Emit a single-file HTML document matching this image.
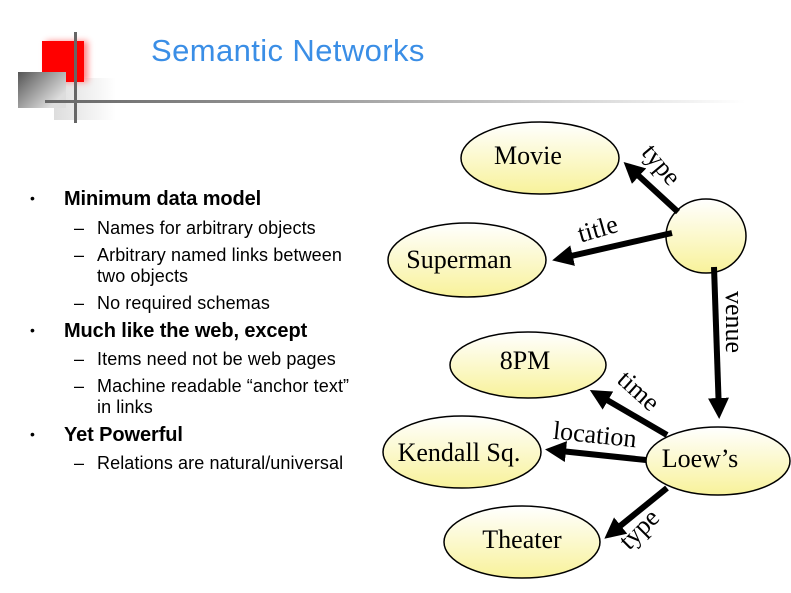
<!DOCTYPE html>
<html><head><style>
body{margin:0;width:791px;height:593px;background:#fff;position:relative;overflow:hidden;font-family:"Liberation Sans",Arial,sans-serif}
.t{position:absolute;white-space:nowrap}
.b{font-size:20px;font-weight:bold;color:#000;letter-spacing:-0.1px}
.s{font-size:18px;color:#000;letter-spacing:0.1px}
</style></head><body>
<div style="position:absolute;left:54px;top:78px;width:62px;height:42px;background:linear-gradient(90deg,#ddd,#fff)"></div>
<div style="position:absolute;left:42px;top:41px;width:42px;height:41px;background:#f00;box-shadow:4px 0 6px #f88"></div>
<div style="position:absolute;left:18px;top:72px;width:48px;height:36px;background:linear-gradient(135deg,#555,#ddd 80%)"></div>
<div style="position:absolute;left:74px;top:32px;width:3px;height:91px;background:#666"></div>
<div style="position:absolute;left:45px;top:100px;width:700px;height:3px;background:linear-gradient(90deg,#666,#bbb 60%,#fff)"></div>
<div class="t" style="left:151px;top:33px;font-size:31px;color:#3a8ee6;letter-spacing:0.4px">Semantic Networks</div>

<div class="t" style="left:30px;top:190px;font-size:14px">•</div>
<div class="t b" style="left:64px;top:188px">Minimum data model</div>
<div class="t s" style="left:74px;top:218px">–</div><div class="t s" style="left:97px;top:218px">Names for arbitrary objects</div>
<div class="t s" style="left:74px;top:245px">–</div><div class="t s" style="left:97px;top:245px">Arbitrary named links between</div>
<div class="t s" style="left:97px;top:266px">two objects</div>
<div class="t s" style="left:74px;top:293px">–</div><div class="t s" style="left:97px;top:293px">No required schemas</div>
<div class="t" style="left:30px;top:322px;font-size:14px">•</div>
<div class="t b" style="left:64px;top:320px">Much like the web, except</div>
<div class="t s" style="left:74px;top:349px">–</div><div class="t s" style="left:97px;top:349px">Items need not be web pages</div>
<div class="t s" style="left:74px;top:376px">–</div><div class="t s" style="left:97px;top:376px">Machine readable “anchor text”</div>
<div class="t s" style="left:97px;top:397px">in links</div>
<div class="t" style="left:30px;top:426px;font-size:14px">•</div>
<div class="t b" style="left:64px;top:424px">Yet Powerful</div>
<div class="t s" style="left:74px;top:453px">–</div><div class="t s" style="left:97px;top:453px">Relations are natural/universal</div>

<svg width="791" height="593" style="position:absolute;left:0;top:0" font-family="Liberation Serif,serif" font-size="26">
<defs><linearGradient id="g" x1="0" y1="0" x2="0" y2="1"><stop offset="0" stop-color="#fff"/><stop offset="1" stop-color="#f8f29a"/></linearGradient>
<marker id="a" markerWidth="3.5" markerHeight="3.5" refX="2.5" refY="1.75" orient="auto"><path d="M0,0L3.5,1.75L0,3.5z" fill="#000"/></marker></defs>
<g fill="url(#g)" stroke="#000" stroke-width="1.5">
<ellipse cx="540" cy="158" rx="79" ry="36"/>
<ellipse cx="706" cy="236" rx="40" ry="37"/>
<ellipse cx="467" cy="260" rx="79" ry="37"/>
<ellipse cx="528" cy="365" rx="78" ry="33"/>
<ellipse cx="462" cy="452" rx="79" ry="36"/>
<ellipse cx="718" cy="461" rx="72" ry="34"/>
<ellipse cx="522" cy="542" rx="78" ry="36"/>
</g>
<g stroke="#000" stroke-width="6" marker-end="url(#a)">
<line x1="678" y1="212" x2="628" y2="166"/>
<line x1="672" y1="233" x2="558" y2="259"/>
<line x1="714" y1="267" x2="719" y2="413"/>
<line x1="667" y1="435" x2="595" y2="393"/>
<line x1="646" y1="460" x2="551" y2="450"/>
<line x1="667" y1="488" x2="609" y2="535"/>
</g>
<g text-anchor="middle">
<text x="528" y="164">Movie</text>
<text x="459" y="268">Superman</text>
<text x="525" y="369">8PM</text>
<text x="459" y="461">Kendall Sq.</text>
<text x="700" y="467">Loew’s</text>
<text x="522" y="548">Theater</text>
<text transform="translate(655,170) rotate(50)">type</text>
<text transform="translate(600,237) rotate(-16)">title</text>
<text transform="translate(726,322) rotate(90)">venue</text>
<text transform="translate(633,397) rotate(42)">time</text>
<text transform="translate(594,443) rotate(6)">location</text>
<text transform="translate(645,535) rotate(-45)">type</text>
</g>
</svg>
</body></html>
